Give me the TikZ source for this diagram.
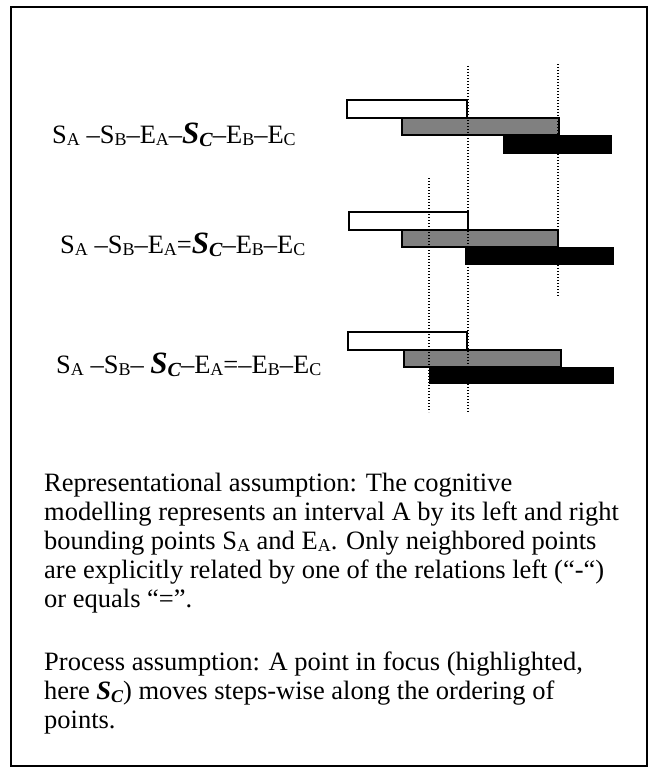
\documentclass[tikz,border=0pt]{standalone}
\usepackage{fontspec}
\setmainfont{Liberation Serif}
\definecolor{bargray}{HTML}{808080}
\newcommand\sbx[1]{\raisebox{-0.1em}{\fontsize{18}{18}\selectfont #1}}
\newcommand\scx{{\fontsize{31}{31}\selectfont\bfseries\itshape S\raisebox{-0.12em}{\fontsize{20}{20}\selectfont C}}}
\newcommand\scp{{\bfseries\itshape S\raisebox{-0.12em}{\fontsize{18}{18}\selectfont C}}}
\begin{document}
\begin{tikzpicture}[x=1pt,y=-1pt,
  txt/.style={anchor=base west, inner sep=0pt, font=\fontsize{26.5}{29}\selectfont},
  barw/.style={draw=black, line width=1.3pt, fill=white},
  barg/.style={draw=black, line width=1.3pt, fill=bargray},
  barb/.style={draw=black, line width=0.6pt, fill=black},
  dotline/.style={line width=1.2pt, dash pattern=on 1.2pt off 1.8pt}]
\useasboundingbox (0,0) rectangle (652,768);
\draw[line width=1.5pt] (11,7) rectangle (647,766);
% row 1 bars
\draw[barw] (347,100) rectangle (467,118);
\draw[barg] (402,118) rectangle (559,135);
\draw[barb] (503,135) rectangle (611,153);
% row 2 bars
\draw[barw] (349,212) rectangle (468,230);
\draw[barg] (402,230) rectangle (558,247);
\draw[barb] (465,247) rectangle (613,264);
% row 3 bars
\draw[barw] (348,332) rectangle (467,350);
\draw[barg] (404,350) rectangle (561,367);
\draw[barb] (429,367) rectangle (613,383);
% dotted guide lines
\coordinate (d1t) at (468,66);  \coordinate (d1b) at (468,412);
\coordinate (d2t) at (558,64);  \coordinate (d2b) at (558,297);
\coordinate (d3t) at (429,178); \coordinate (d3b) at (429,412);
\draw[dotline] (d1t) -- (d1b);
\draw[dotline] (d2t) -- (d2b);
\draw[dotline] (d3t) -- (d3b);
% orderings
\node[txt] (r1) at (52,143) {S\sbx{A} –S\sbx{B}–E\sbx{A}–\scx–E\sbx{B}–E\sbx{C}};
\node[txt] (r2) at (60,253) {S\sbx{A} –S\sbx{B}–E\sbx{A}=\scx–E\sbx{B}–E\sbx{C}};
\node[txt] (r3) at (56,373) {S\sbx{A} –S\sbx{B}– \scx–E\sbx{A}=–E\sbx{B}–E\sbx{C}};
% paragraphs
\node[txt] (p1) at (44,491) {Representational assumption: The cognitive};
\node[txt] (p2) at (44,520) {modelling represents an interval A by its left and right};
\node[txt] (p3) at (44,549) {bounding points S\sbx{A} and E\sbx{A}. Only neighbored points};
\node[txt] (p4) at (44,578) {are explicitly related by one of the relations left (“-“)};
\node[txt] (p5) at (44,607) {or equals “=”.};
\node[txt] (q1) at (44,670) {Process assumption: A point in focus (highlighted,};
\node[txt] (q2) at (44,699) {here \scp) moves steps-wise along the ordering of};
\node[txt] (q3) at (44,728) {points.};
\end{tikzpicture}
\end{document}
